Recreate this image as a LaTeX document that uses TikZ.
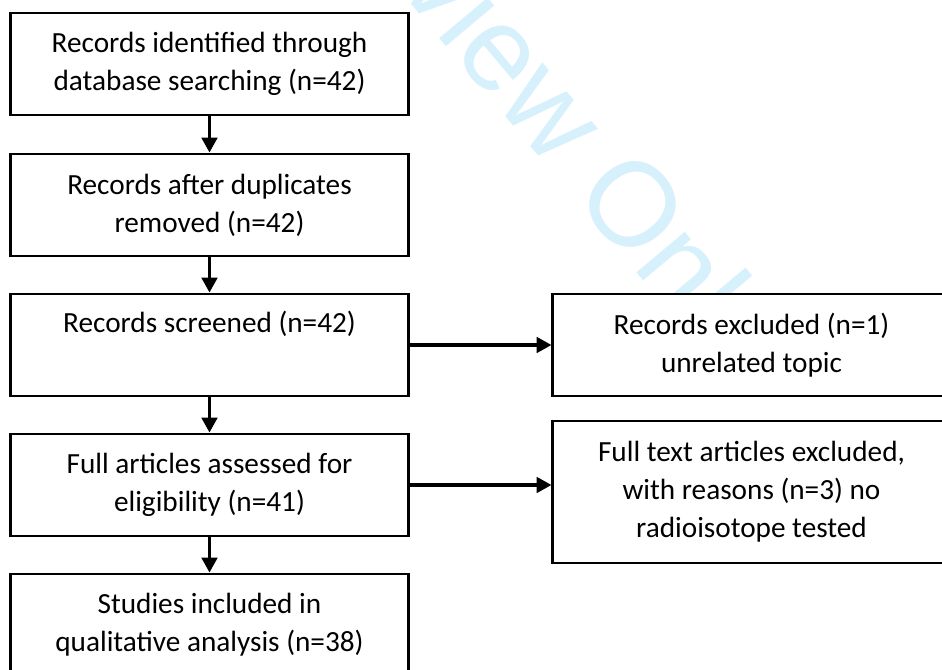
\documentclass[tikz,border=0pt]{standalone}
\usepackage{fontspec}
\setmainfont{Carlito}
\newfontfamily\wmfont{Liberation Sans}
\usepackage{xcolor}
\usepackage{tikz}
\usetikzlibrary{arrows.meta}
\definecolor{wmark}{HTML}{D6F0FC}
\definecolor{ink}{HTML}{000000}
\tikzset{
  box/.style={draw=ink, fill=white, line width=2.1pt, minimum width=9.925cm, minimum height=2.55cm,
    inner sep=0pt, align=center, font=\fontsize{20.8}{27}\selectfont},
  tallbox/.style={box, minimum height=3.55cm},
  arr/.style={-{Triangle[width=11pt,length=10.5pt]}, line width=2.2pt, draw=ink},
  wmtext/.style={anchor=base west, rotate=-50, text=wmark, inner sep=0pt,
    font=\wmfont\fontsize{85}{85}\selectfont}
}

\begin{document}
\begin{tikzpicture}[x=0.025cm, y=-0.025cm]
  \useasboundingbox (0,0) rectangle (942,670);
  \clip (0,0) rectangle (942,670);
  % watermark behind the boxes
  \node[wmtext] (wm) at (-22,-512) {For Peer Review Only};
  % main column
  \node[box] (ident)  at (209.5,64)  {Records identified through\\database searching (n=42)};
  \node[box] (dup)    at (209.5,205) {Records after duplicates\\removed (n=42)};
  \node[box, text depth=32.8pt] (screen) at (209.5,345) {Records screened (n=42)};
  \node[box] (full)   at (209.5,485) {Full articles assessed for\\eligibility (n=41)};
  \node[box] (incl)   at (209.5,625) {Studies included in\\qualitative analysis (n=38)};
  % exclusions
  \node[box]     (excl) at (751.5,345) {Records excluded (n=1)\\unrelated topic};
  \node[tallbox] (ftex) at (751.5,492) {Full text articles excluded,\\with reasons (n=3) no\\radioisotope tested};
  \draw[arr] (ident) -- (dup);
  \draw[arr] (dup) -- (screen);
  \draw[arr] (screen) -- (full);
  \draw[arr] (full) -- (incl);
  \draw[arr] (screen.east) -- (screen.east -| excl.west);
  \draw[arr] (full.east) -- (full.east -| ftex.west);
\end{tikzpicture}
\end{document}
